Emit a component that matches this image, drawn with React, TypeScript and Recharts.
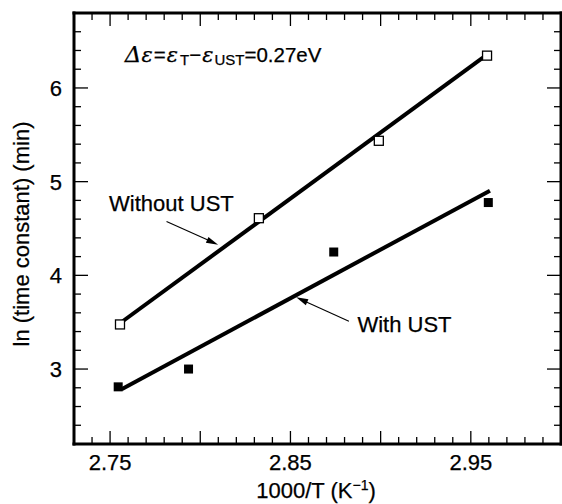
import React from 'react';
import { ComposedChart, Line, XAxis, YAxis, ReferenceLine, ReferenceDot, Customized } from 'recharts';

const FONT = '"Liberation Sans", Arial, Helvetica, sans-serif';
const SERIF = '"DejaVu Serif", "Liberation Serif", serif';

// open squares - without UST
const withoutX = [2.7555, 2.8325, 2.899, 2.959];
const withoutY = [3.476, 4.61, 5.436, 6.345];
// filled squares - with UST
const withX = [2.7545, 2.7935, 2.874, 2.9597];
const withY = [2.81, 3.0, 4.249, 4.777];
// fitted lines, end points
const fitWithoutX = [2.757, 2.9567];
const fitWithoutY = [3.51, 6.323];
const fitWithX = [2.7564, 2.9606];
const fitWithY = [2.784, 4.904];

const xDomain = [2.73, 3.0];
const yDomain = [2.2, 6.8];
const xLabels = ['2.75', '2.85', '2.95'];
const yLabels = ['3', '4', '5', '6'];

const xTicks: number[] = [];
for (let i = 273; i <= 300; i++) xTicks.push(i / 100);
const yTicks: number[] = [];
for (let i = 11; i <= 34; i++) yTicks.push(Math.round(i * 2) / 10);

const toPts = (xs: number[], ys: number[]) => xs.map((x, i) => ({ x, y: ys[i] }));
const withoutData = toPts(withoutX, withoutY);
const withData = toPts(withX, withY);
const fitWithoutData = toPts(fitWithoutX, fitWithoutY);
const fitWithData = toPts(fitWithX, fitWithY);

const isMajorX = (v: number) => Math.round(v * 100) % 5 === 0;
const isMajorY = (v: number) => Math.abs(v - Math.round(v)) < 1e-6;

const TICK = { stroke: '#000', strokeWidth: 1.3 };
const AXIS_LINE = { stroke: '#000', strokeWidth: 3, strokeLinecap: 'square' as const };
const TXT = { fontFamily: FONT, fill: '#000', stroke: '#000', strokeWidth: 0.25 };

const XTick = (props: any) => {
  const { x, y, payload, side } = props;
  const v = payload.value;
  const len = isMajorX(v) ? 13 : 7;
  const label = xLabels.find(l => Math.abs(parseFloat(l) - v) < 1e-6);
  const dir = side === 'bottom' ? -1 : 1;
  return (
    <g>
      <line x1={x} x2={x} y1={y} y2={y + dir * len} {...TICK} />
      {side === 'bottom' && label && (
        <text x={x} y={y + 26} textAnchor="middle" fontSize={22} {...TXT}>{label}</text>
      )}
    </g>
  );
};

const YTick = (props: any) => {
  const { x, y, payload, side } = props;
  const v = payload.value;
  const len = isMajorY(v) ? 14 : 7;
  const label = yLabels.find(l => Math.abs(parseFloat(l) - v) < 1e-6);
  const dir = side === 'left' ? 1 : -1;
  return (
    <g>
      <line x1={x} x2={x + dir * len} y1={y} y2={y} {...TICK} />
      {side === 'left' && label && (
        <text x={x - 12} y={y} dy="0.36em" textAnchor="end" fontSize={22} {...TXT}>{label}</text>
      )}
    </g>
  );
};

const OpenSquare = (props: any) => {
  const { cx, cy } = props;
  if (cx == null || cy == null) return null;
  return <rect x={cx - 4.5} y={cy - 4.5} width={9} height={9} fill="#fff" stroke="#000" strokeWidth={1.3} />;
};

const FilledSquare = (props: any) => {
  const { cx, cy } = props;
  if (cx == null || cy == null) return null;
  return <rect x={cx - 4.5} y={cy - 4.5} width={9} height={9} fill="#000" />;
};

const Arrow = (props: any) => {
  const { x1, y1, x2, y2 } = props;
  const a = Math.atan2(y2 - y1, x2 - x1);
  const L = 12, W = 3.2;
  const c = Math.cos(a), s = Math.sin(a);
  const bx = x2 - L * c, by = y2 - L * s;
  return (
    <g>
      <line x1={x1} y1={y1} x2={bx + 2 * c} y2={by + 2 * s} stroke="#000" strokeWidth={1.1} />
      <polygon points={`${x2},${y2} ${bx - W * s},${by + W * c} ${bx + W * s},${by - W * c}`} fill="#000" />
    </g>
  );
};

const TextAt = (text: string) => (props: any) => (
  <text x={props.cx} y={props.cy} textAnchor="middle" fontSize={22} {...TXT}>{text}</text>
);

const DeltaText = (props: any) => (
  <text x={props.cx} y={props.cy} fontSize={20.5} {...TXT}>
    <tspan fontFamily={SERIF} fontStyle="italic" fontSize={23}>Δ</tspan>
    <tspan fontFamily={SERIF} fontStyle="italic" fontSize={21}>ε</tspan>
    <tspan dx={1}>=</tspan>
    <tspan fontFamily={SERIF} fontStyle="italic" fontSize={21} dx={1}>ε</tspan>
    <tspan fontSize={15} dx={2} dy={3}>T</tspan>
    <tspan dy={-3}>−</tspan>
    <tspan fontFamily={SERIF} fontStyle="italic" fontSize={21} dx={1}>ε</tspan>
    <tspan fontSize={15} dx={1} dy={3}>UST</tspan>
    <tspan dy={-3}>=0.27eV</tspan>
  </text>
);

const Titles = () => (
  <g {...TXT}>
    <text x={316} y={498} textAnchor="middle" fontSize={22}>
      <tspan>1000/T (K</tspan>
      <tspan fontSize={14} dy={-8}>−1</tspan>
      <tspan dy={8}>)</tspan>
    </text>
    <text x={29} y={234} textAnchor="middle" fontSize={22} transform="rotate(-90 29 234)">
      ln (time constant) (min)
    </text>
  </g>
);

export default function App() {
  return (
    <div style={{ position: 'absolute', left: 0, top: 0, background: '#fff' }}>
      <ComposedChart width={562} height={504} margin={{ top: 0, right: 0, bottom: 0, left: 0 }}>
        <XAxis xAxisId="b" orientation="bottom" dataKey="x" type="number" domain={xDomain} allowDataOverflow
          ticks={xTicks} interval={0} height={60} tickSize={0} tickMargin={0} tickLine={false}
          axisLine={AXIS_LINE} tick={(p: any) => <XTick {...p} side="bottom" />} />
        <XAxis xAxisId="t" orientation="top" dataKey="x" type="number" domain={xDomain} allowDataOverflow
          ticks={xTicks} interval={0} height={13} tickSize={0} tickMargin={0} tickLine={false}
          axisLine={AXIS_LINE} tick={(p: any) => <XTick {...p} side="top" />} />
        <YAxis yAxisId="l" orientation="left" type="number" domain={yDomain} allowDataOverflow
          ticks={yTicks} interval={0} width={74} tickSize={0} tickMargin={0} tickLine={false}
          axisLine={AXIS_LINE} tick={(p: any) => <YTick {...p} side="left" />} />
        <YAxis yAxisId="r" orientation="right" type="number" domain={yDomain} allowDataOverflow
          ticks={yTicks} interval={0} width={1} tickSize={0} tickMargin={0} tickLine={false}
          axisLine={AXIS_LINE} tick={(p: any) => <YTick {...p} side="right" />} />

        <Line xAxisId="b" yAxisId="l" data={fitWithoutData} dataKey="y" stroke="#000" strokeWidth={4}
          dot={false} isAnimationActive={false} />
        <Line xAxisId="b" yAxisId="l" data={fitWithData} dataKey="y" stroke="#000" strokeWidth={4}
          dot={false} isAnimationActive={false} />
        <Line xAxisId="b" yAxisId="l" data={withoutData} dataKey="y" stroke="none"
          dot={<OpenSquare />} activeDot={false} isAnimationActive={false} />
        <Line xAxisId="b" yAxisId="l" data={withData} dataKey="y" stroke="none"
          dot={<FilledSquare />} activeDot={false} isAnimationActive={false} />

        <ReferenceLine xAxisId="b" yAxisId="l" segment={[{ x: 2.7813, y: 4.574 }, { x: 2.8099, y: 4.327 }]}
          shape={(p: any) => <Arrow {...p} />} />
        <ReferenceLine xAxisId="b" yAxisId="l" segment={[{ x: 2.8824, y: 3.511 }, { x: 2.8532, y: 3.766 }]}
          shape={(p: any) => <Arrow {...p} />} />
        <ReferenceDot xAxisId="b" yAxisId="l" x={2.784} y={4.688} r={0} shape={TextAt('Without UST')} />
        <ReferenceDot xAxisId="b" yAxisId="l" x={2.9132} y={3.394} r={0} shape={TextAt('With UST')} />
        <ReferenceDot xAxisId="b" yAxisId="l" x={2.7582} y={6.277} r={0} shape={DeltaText} />
        <Customized component={Titles} />
      </ComposedChart>
    </div>
  );
}
